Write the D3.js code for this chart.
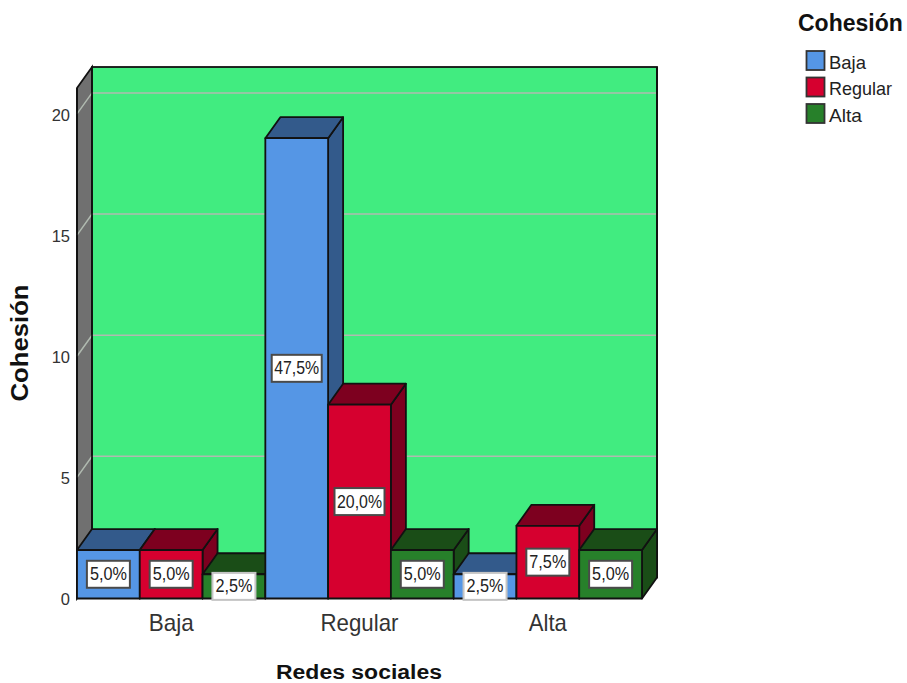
<!DOCTYPE html>
<html><head><meta charset="utf-8">
<script src="https://cdn.jsdelivr.net/npm/d3@7"></script>
<style>html,body{margin:0;padding:0;background:#fff}svg{display:block}text{font-family:"Liberation Sans",Arial,sans-serif;fill:#222}</style>
</head><body><div id="c"></div>
<script>
const categories = ["Baja","Regular","Alta"];
const seriesNames = ["Baja","Regular","Alta"];
const seriesValues = [[2,2,1],[19,8,2],[1,3,2]];
const seriesLabels = [["5,0%","5,0%","2,5%"],["47,5%","20,0%","5,0%"],["2,5%","7,5%","5,0%"]];
const yTicks = [0,5,10,15,20];
const frontColors = ["#5596e5","#d6002f","#27802a"];
const darkColors = ["#335a8b","#7d001f","#1a4d17"];

const W=907,H=683,DX=15,DY=-21;
const svg=d3.select("#c").append("svg").attr("width",W).attr("height",H);
const y=d3.scaleLinear().domain([0,21.07]).range([598.5,88]);
const x0=d3.scaleBand().domain(categories).range([77,642]);
const x1=d3.scaleBand().domain(seriesNames).range([0,x0.bandwidth()]);
const line=d3.line();
const INK="#111", SW=1.8;

// walls
const fy0=y(0), fyT=y.range()[1], xL=x0.range()[0], xR=x0.range()[1];
svg.append("path").attr("d",line([[xL,fy0],[xL,fyT],[xL+DX,fyT+DY],[xL+DX,fy0+DY]])+"Z")
  .attr("fill","#707070").attr("stroke",INK).attr("stroke-width",SW);
svg.append("rect").attr("x",xL+DX).attr("y",fyT+DY).attr("width",xR-xL).attr("height",fy0-fyT)
  .attr("fill","#41ec80").attr("stroke",INK).attr("stroke-width",SW);
// gridlines
yTicks.filter(d=>d>0).forEach(t=>{
  svg.append("path").attr("fill","none").attr("stroke","#b0bab0").attr("stroke-width",1.5)
    .attr("d",line([[xL,y(t)],[xL+DX,y(t)+DY],[xR+DX-1,y(t)+DY]]));
});
// re-stroke the wall edges over gridlines
svg.append("path").attr("d",line([[xL+DX,fyT+DY],[xL+DX,fy0+DY]])).attr("stroke",INK).attr("stroke-width",SW);
svg.append("path").attr("d",line([[xR+DX,fyT+DY],[xR+DX,fy0+DY]])).attr("stroke",INK).attr("stroke-width",SW);
svg.append("path").attr("d",line([[xL,fy0],[xL,fyT]])).attr("stroke",INK).attr("stroke-width",SW);

// bars, painted left to right
categories.forEach((c,ci)=>{
  seriesNames.forEach((s,si)=>{
    const v=seriesValues[ci][si];
    const a=x0(c)+x1(s), b=a+x1.bandwidth(), t=y(v), f=y(0);
    const g=svg.append("g").attr("stroke",INK).attr("stroke-width",SW).attr("stroke-linejoin","round");
    g.append("path").attr("fill",darkColors[si]).attr("d",line([[b,f],[b,t],[b+DX,t+DY],[b+DX,f+DY]])+"Z");
    g.append("path").attr("fill",darkColors[si]).attr("d",line([[a,t],[b,t],[b+DX,t+DY],[a+DX,t+DY]])+"Z");
    g.append("rect").attr("x",a).attr("y",t).attr("width",b-a).attr("height",f-t).attr("fill",frontColors[si]);
  });
});
// value labels
categories.forEach((c,ci)=>{
  seriesNames.forEach((s,si)=>{
    const v=seriesValues[ci][si], txt=seriesLabels[ci][si];
    const cx=x0(c)+x1(s)+x1.bandwidth()/2, cy=(y(v)+y(0))/2;
    const wide=txt.length>4, w=wide?50:43, h=27;
    const small=v===1;
    svg.append("rect").attr("x",cx-w/2).attr("y",cy-h/2).attr("width",w).attr("height",h)
      .attr("fill","#fff").attr("stroke",small?"#c4c4c4":"#4a4a4a").attr("stroke-width",2);
    svg.append("text").attr("x",cx).attr("y",cy-0.5).attr("text-anchor","middle").attr("dy","0.36em")
      .attr("textLength",wide?45:37).attr("lengthAdjust","spacingAndGlyphs")
      .style("font-size","18px").text(txt);
  });
});
// y ticks
yTicks.forEach(t=>{
  svg.append("text").attr("x",70).attr("y",y(t)+1).attr("dy","0.36em").attr("text-anchor","end")
    .style("font-size","16.5px").style("fill","#333").text(t);
});
// category labels
const catLen={Baja:45,Regular:78,Alta:38};
categories.forEach(c=>{
  svg.append("text").attr("x",x0(c)+x0.bandwidth()/2).attr("y",631).attr("text-anchor","middle")
    .attr("textLength",catLen[c]).attr("lengthAdjust","spacingAndGlyphs")
    .style("font-size","24px").style("fill","#333").text(c);
});
// titles
svg.append("text").attr("x",359).attr("y",679).attr("text-anchor","middle")
  .attr("textLength",166).attr("lengthAdjust","spacingAndGlyphs")
  .style("font-size","20px").style("font-weight","bold").style("fill","#111").text("Redes sociales");
svg.append("text").attr("transform","translate(28,343) rotate(-90)").attr("text-anchor","middle")
  .attr("textLength",117).attr("lengthAdjust","spacingAndGlyphs")
  .style("font-size","24px").style("font-weight","bold").style("fill","#111").text("Cohesión");
// legend
svg.append("text").attr("x",798).attr("y",31).style("font-size","23px").style("font-weight","bold").style("fill","#111").text("Cohesión");
const legY=d3.scalePoint().domain(seriesNames).range([61,114]);
seriesNames.forEach((s,i)=>{
  svg.append("rect").attr("x",806.5).attr("y",legY(s)-10).attr("width",18).attr("height",19)
    .attr("fill",frontColors[i]).attr("stroke","#333").attr("stroke-width",1.8);
  svg.append("text").attr("x",829).attr("y",legY(s)).attr("dy","0.42em")
    .attr("textLength",s==="Regular"?63:s==="Baja"?37:33).attr("lengthAdjust","spacingAndGlyphs")
    .style("font-size","19px").text(s);
});
</script></body></html>
